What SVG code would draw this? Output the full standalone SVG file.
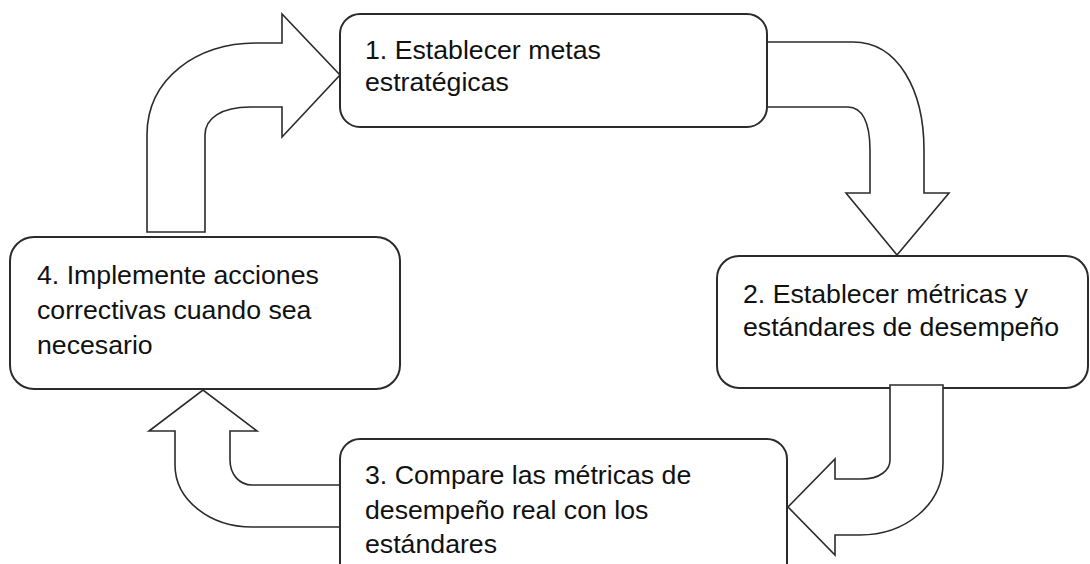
<svg xmlns="http://www.w3.org/2000/svg" width="1090" height="564" viewBox="0 0 1090 564">
<style>
.box{fill:#fff;stroke:#2b2b2b;stroke-width:2}
.arr{fill:#fff;stroke:#2b2b2b;stroke-width:1.6;stroke-linejoin:miter}
.t{font-family:"Liberation Sans",Arial,sans-serif;font-size:26.7px;fill:#111}
</style>
<rect width="1090" height="564" fill="#fff"/>
<g id="connectors-under">
<path id="arrow-4-1" class="arr" d="M147,232 L147,135 C147,78 198,43 255,43 L282,43 L282,14 L340,75 L282,137 L282,107 L250,107 C222,107 205,118 205,135 L205,232 Z"/>
</g>
<g id="node-1">
<rect class="box" x="340" y="14" width="427" height="113" rx="20"/>
<text class="t" x="365" y="59">1. Establecer metas</text>
<text class="t" x="365" y="91">estratégicas</text>
</g>
<g id="node-2">
<rect class="box" x="717" y="256" width="371" height="132" rx="22"/>
<text class="t" x="743" y="303">2. Establecer métricas y</text>
<text class="t" x="743" y="336">estándares de desempeño</text>
</g>
<g id="node-4">
<rect class="box" x="10" y="237" width="390" height="152" rx="24"/>
<text class="t" x="37" y="284">4. Implemente acciones</text>
<text class="t" x="37" y="319">correctivas cuando sea</text>
<text class="t" x="37" y="354">necesario</text>
</g>
<g id="node-3">
<rect class="box" x="340" y="439" width="447" height="150" rx="20"/>
<text class="t" x="365" y="484">3. Compare las métricas de</text>
<text class="t" x="365" y="519">desempeño real con los</text>
<text class="t" x="365" y="553">estándares</text>
</g>
<g id="connectors">
<path id="arrow-1-2" class="arr" d="M768,42 L853,42 C898,42 924,90 924,150 L924,193 L949,193 L897,255 L846,193 L870,193 L870,150 C870,122 862,107 848,107 L768,107"/>
<path id="arrow-2-3" class="arr" d="M890,385 L943,385 L943,463 C943,505 905,535 860,535 L835,535 L835,555 L788,507 L835,459 L835,479 L862,479 C880,479 890,470 890,460 Z"/>
<path id="arrow-3-4" class="arr" d="M339,527 L252,527 C210,527 175,500 175,465 L175,431 L149,431 L203,390 L257,431 L230,431 L230,460 C230,475 240,485 252,485 L339,485"/>
</g>
</svg>
